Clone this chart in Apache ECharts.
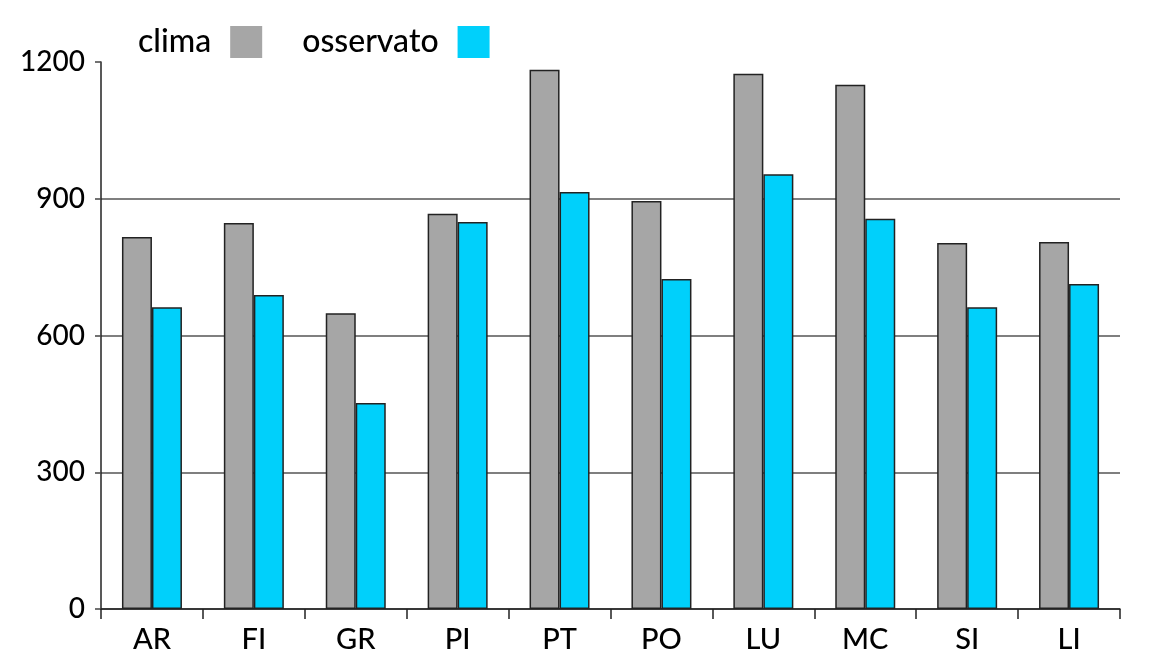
<!DOCTYPE html>
<html>
<head>
<meta charset="utf-8">
<script src="https://cdn.jsdelivr.net/npm/echarts@6/dist/echarts.min.js"></script>
<style>html,body{margin:0;padding:0;background:#fff}#c{width:1152px;height:654px}</style>
</head>
<body>
<div id="c"></div>
<script>
const categories = ['AR','FI','GR','PI','PT','PO','LU','MC','SI','LI'];
const clima = [816, 847, 649, 867, 1183, 895, 1174, 1150, 803, 805];
const osservato = [662, 689, 452, 849, 915, 724, 954, 856, 662, 713];
const yTicks = [0, 300, 600, 900, 1200];

const FONT = 'Lato, "Noto Sans", sans-serif';
const chart = echarts.init(document.getElementById('c'));
chart.setOption({
  animation: false,
  backgroundColor: '#fff',
  textStyle: { fontFamily: FONT },
  legend: {
    left: 133, top: 21,
    align: 'right',
    itemWidth: 32, itemHeight: 32, itemGap: 40,
    icon: 'rect',
    textStyle: { fontSize: 32, fontWeight: 500, color: '#000', fontFamily: FONT, padding: [0, 14, 4, 0] },
    data: [
      { name: 'clima', itemStyle: { borderWidth: 0 } },
      { name: 'osservato', itemStyle: { borderWidth: 0 } }
    ]
  },
  grid: { left: 101, right: 32, top: 62, bottom: 45, containLabel: false },
  xAxis: {
    type: 'category',
    data: categories,
    axisLine: { lineStyle: { color: '#222', width: 1.5 } },
    axisTick: { show: true, alignWithLabel: false, length: 10, lineStyle: { color: '#222', width: 1.5 } },
    axisLabel: { fontSize: 29, fontWeight: 500, color: '#000', margin: 16, fontFamily: FONT }
  },
  yAxis: {
    type: 'value',
    min: yTicks[0], max: yTicks[yTicks.length - 1], interval: 300,
    axisLine: { show: true, lineStyle: { color: '#222', width: 1.5 } },
    axisTick: { show: true, length: 6, lineStyle: { color: '#444', width: 1.5 } },
    splitLine: { show: true, lineStyle: { color: ['#555', '#555', '#555', '#555', 'rgba(0,0,0,0)'], width: 1.5 } },
    axisLabel: {
      fontSize: 28, fontWeight: 500, color: '#000', margin: 16, fontFamily: FONT,
      formatter: function (v) { return String(v); }
    }
  },
  series: [
    {
      name: 'clima', type: 'bar', data: clima,
      barWidth: 30, barGap: '0%',
      itemStyle: { color: '#a6a6a6', borderColor: '#222', borderWidth: 1.5 }
    },
    {
      name: 'osservato', type: 'bar', data: osservato,
      barWidth: 30, barGap: '0%',
      itemStyle: { color: '#00d0fb', borderColor: '#222', borderWidth: 1.5 }
    }
  ]
});
</script>
</body>
</html>
